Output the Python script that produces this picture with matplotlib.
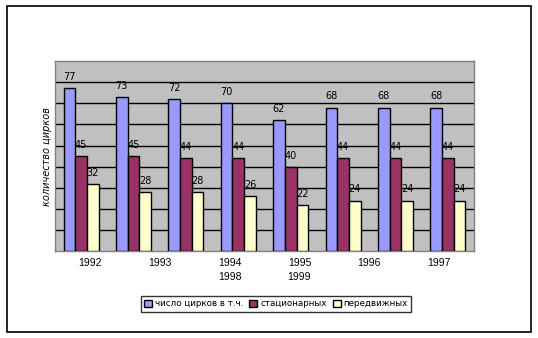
import numpy as np
import matplotlib
matplotlib.use("Agg")
import matplotlib.pyplot as plt
from matplotlib.patches import Rectangle

# circus counts by year
years = ["1992", "1993", "1994", "1995", "1996", "1997", "1998", "1999"]
total = [77, 73, 72, 70, 62, 68, 68, 68]
stationary = [45, 45, 44, 44, 40, 44, 44, 44]
mobile = [32, 28, 28, 26, 22, 24, 24, 24]
series_names = ["число цирков в т.ч.", "стационарных", "передвижных"]

# the category axis labels wrap into two rows over six slots
tick_labels = ["1992", "1993", "1994\n1998", "1995\n1999", "1996", "1997"]

colors = ["#9999FF", "#993366", "#FFFFCC"]

plt.rcParams['font.family'] = ['DejaVu Sans']

fig = plt.figure(figsize=(5.38, 3.38), dpi=100)
ax = fig.add_axes([0.1022, 0.2565, 0.7788, 0.563])

x = np.arange(len(years))
w = 0.223
for k, (vals, col, name) in enumerate(zip([total, stationary, mobile], colors, series_names)):
    bars = ax.bar(x + (k - 1) * w, vals, width=w, color=col, edgecolor="black",
                  linewidth=1, label=name, zorder=3)
    for b, v in zip(bars, vals):
        ax.annotate(str(v), (b.get_x() + b.get_width() / 2, v),
                    xytext=(0, 8), textcoords="offset points",
                    ha="center", va="center", fontsize=7, zorder=4)

ax.set_facecolor("#C0C0C0")
ax.set_xlim(-0.5, len(years) - 0.5)
ax.set_ylim(0, 90)
ax.set_yticks(np.arange(10, 90, 10))
ax.yaxis.grid(True, color="black", linewidth=1, zorder=1)
ax.tick_params(axis="y", length=0, labelleft=False)

n_slots = len(tick_labels)
slot_pos = -0.5 + (np.arange(n_slots) + 0.5) * len(years) / n_slots
ax.set_xticks(slot_pos)
ax.set_xticklabels(tick_labels, fontsize=7.5, linespacing=1.45,
                   family=["Liberation Sans"])
ax.tick_params(axis="x", length=0, pad=5)

for s in ax.spines.values():
    s.set_color("#808080")
    s.set_linewidth(1)

ax.set_ylabel("количество цирков", fontsize=7, style="italic", labelpad=2)

leg = fig.legend(loc="center", bbox_to_anchor=(0.513, 0.1006), ncol=3,
                 fontsize=6.3, frameon=True, fancybox=False, handlelength=0.9,
                 handleheight=0.9, handletextpad=0.35, columnspacing=0.7,
                 borderpad=0.4, borderaxespad=0)
leg.get_frame().set_edgecolor("black")
leg.get_frame().set_linewidth(1)

# outer chart border
fig.patches.append(Rectangle((0.0121, 0.0178), 0.975, 0.963, transform=fig.transFigure,
                             fill=False, edgecolor="black", linewidth=1.2))

fig.savefig("out.png", dpi=100)
